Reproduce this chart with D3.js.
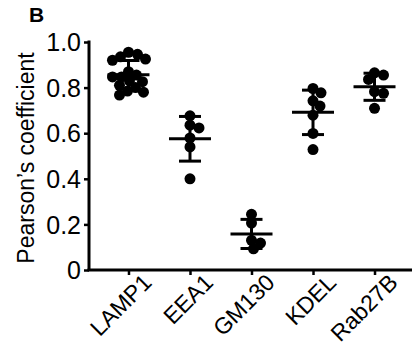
<!DOCTYPE html>
<html>
<head>
<meta charset="utf-8">
<script src="https://cdn.jsdelivr.net/npm/d3@7"></script>
<style>
  html, body { margin: 0; padding: 0; background: #fff; }
  svg { display: block; }
  text { font-family: "Liberation Sans", Arial, sans-serif; fill: #000; }
</style>
</head>
<body>
<svg id="chart" width="416" height="348"></svg>
<script>
// ---- data ----
const categories = ["LAMP1", "EEA1", "GM130", "KDEL", "Rab27B"];
const lamp1 = [0.955, 0.946, 0.935, 0.925, 0.92, 0.87, 0.855, 0.847, 0.847, 0.83, 0.826, 0.81, 0.80, 0.785, 0.78, 0.767];
const eea1 = [0.676, 0.635, 0.623, 0.579, 0.54, 0.40];
const gm130 = [0.244, 0.206, 0.13, 0.118, 0.093];
const kdel = [0.796, 0.777, 0.742, 0.719, 0.679, 0.599, 0.528];
const rab27b = [0.865, 0.855, 0.836, 0.782, 0.775, 0.709];
const seriesValues = [lamp1, eea1, gm130, kdel, rab27b];
const yTicks = [0, 0.2, 0.4, 0.6, 0.8, 1.0];
const yTitle = "Pearson\u2019s coefficient";
const panelLabel = "B";

// ---- layout ----
const svg = d3.select("#chart");
const x0 = 89, x1 = 414, yTop = 42, yBot = 270;
const FONT = "Liberation Sans, Arial, sans-serif";

const x = d3.scalePoint().domain(categories).range([x0, x1]).padding(0.642);
const y = d3.scaleLinear().domain([0, 1]).range([yBot, yTop]);

// y axis
const yAxis = svg.append("g")
  .attr("transform", `translate(${x0},0)`)
  .call(d3.axisLeft(y).tickValues(yTicks).tickSize(5).tickSizeOuter(0)
    .tickFormat(d => d === 0 ? "0" : d3.format(".1f")(d)));
yAxis.select(".domain").attr("stroke", "#000").attr("stroke-width", 3)
  .attr("d", `M0,${yTop - 1.5}V${yBot}`);
yAxis.selectAll(".tick line").attr("stroke", "#000").attr("stroke-width", 2.5);
yAxis.selectAll(".tick text").attr("font-size", 25).attr("x", -8).attr("dy", "0.35em")
  .attr("font-family", FONT).attr("fill", "#000");

// x axis
const xAxis = svg.append("g")
  .attr("transform", `translate(0,${yBot})`)
  .call(d3.axisBottom(x).tickSize(5).tickSizeOuter(0));
xAxis.select(".domain").attr("stroke", "#000").attr("stroke-width", 3)
  .attr("d", `M${x0 - 1.5},0H${x1 - 2}`);
xAxis.selectAll(".tick line").attr("stroke", "#000").attr("stroke-width", 2.5);
xAxis.selectAll(".tick text")
  .attr("font-size", 23)
  .attr("font-family", FONT).attr("fill", "#000")
  .attr("text-anchor", "end")
  .attr("dy", null)
  .attr("y", 0)
  .attr("transform", "translate(24,14) rotate(-45)");

// y title
svg.append("text")
  .attr("transform", `translate(34,${(yTop + yBot) / 2 + 2}) rotate(-90)`)
  .attr("text-anchor", "middle")
  .attr("font-size", 23)
  .attr("font-family", FONT)
  .text(yTitle);

// panel label
svg.append("text")
  .attr("x", 29).attr("y", 22)
  .attr("font-size", 21).attr("font-weight", "bold")
  .attr("font-family", FONT)
  .text(panelLabel);

// ---- points (beeswarm layout) ----
const r = 5.5, minDist = 8.5;
categories.forEach((cat, i) => {
  const vals = seriesValues[i];
  const cx = x(cat);
  const placed = [];
  vals.slice().sort((a, b) => b - a).forEach(v => {
    const py = y(v);
    let off = 0;
    for (let k = 0; k < 200; k++) {
      const cand = k === 0 ? 0 : (k % 2 ? 1 : -1) * Math.ceil(k / 2);
      const ok = placed.every(p => Math.hypot(p.x - (cx + cand), p.y - py) >= minDist);
      if (ok) { off = cand; break; }
    }
    placed.push({ x: cx + off, y: py });
  });
  const g = svg.append("g");
  g.selectAll("circle").data(placed).join("circle")
    .attr("cx", d => d.x).attr("cy", d => d.y).attr("r", r).attr("fill", "#000");

  const m = d3.mean(vals), sd = d3.deviation(vals);
  const lw = 3;
  g.append("line").attr("x1", cx - 21).attr("x2", cx + 21)
    .attr("y1", y(m)).attr("y2", y(m)).attr("stroke", "#000").attr("stroke-width", lw);
  g.append("line").attr("x1", cx).attr("x2", cx)
    .attr("y1", y(m + sd)).attr("y2", y(m - sd)).attr("stroke", "#000").attr("stroke-width", lw);
  [m + sd, m - sd].forEach(b => {
    g.append("line").attr("x1", cx - 11).attr("x2", cx + 11)
      .attr("y1", y(b)).attr("y2", y(b)).attr("stroke", "#000").attr("stroke-width", lw);
  });
});
</script>
</body>
</html>
